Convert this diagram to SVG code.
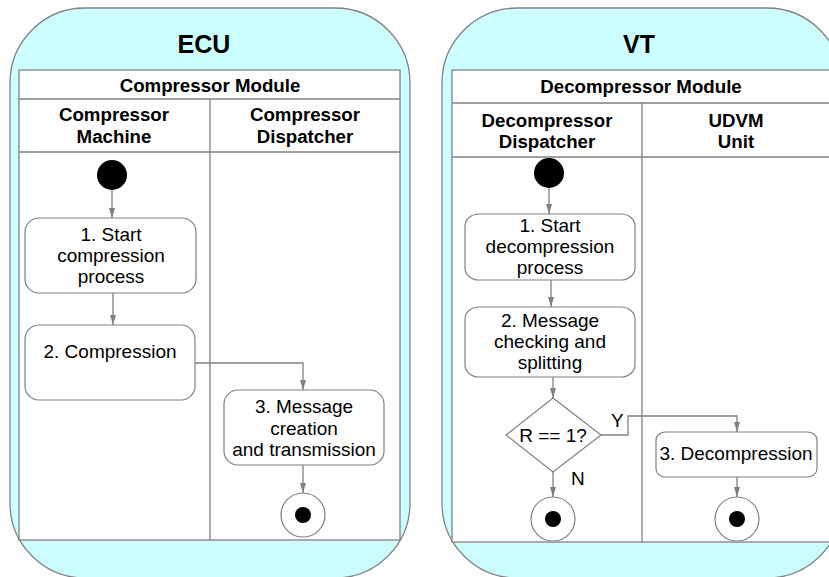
<svg xmlns="http://www.w3.org/2000/svg" width="829" height="577" viewBox="0 0 829 577">
<style>
.cont{fill:#ccffff;stroke:#808080;stroke-width:1.3}
.tbl{fill:#ffffff;stroke:#808080;stroke-width:1.3}
.ln{fill:none;stroke:#808080;stroke-width:1.3}
.box{fill:#ffffff;stroke:#808080;stroke-width:1.2}
.title{font-family:"Liberation Sans",Arial,sans-serif;font-weight:bold;font-size:25px;fill:#000;text-anchor:middle}
.hdr{font-family:"Liberation Sans",Arial,sans-serif;font-weight:bold;font-size:18.7px;fill:#000;text-anchor:middle}
.txt{font-family:"Liberation Sans",Arial,sans-serif;font-size:19px;fill:#000;text-anchor:middle}
.lbl{font-family:"Liberation Sans",Arial,sans-serif;font-size:19px;fill:#000}
.conn{fill:none;stroke:#808080;stroke-width:1.3;marker-end:url(#ah)}
</style>
<defs>
<marker id="ah" markerUnits="userSpaceOnUse" markerWidth="10" markerHeight="16" refX="15" refY="4.5" orient="auto" viewBox="0 0 15 9">
<path d="M0,0 L15,4.5 L0,9 z" fill="#808080"/>
</marker>
</defs>

<g id="ecu">
<rect class="cont" x="10" y="8" width="400" height="570" rx="75" ry="75"/>
<text class="title" x="204" y="53">ECU</text>
<rect class="tbl" x="19" y="70" width="381" height="470"/>
<line class="ln" x1="19" y1="99" x2="400" y2="99"/>
<line class="ln" x1="19" y1="152" x2="400" y2="152"/>
<line class="ln" x1="210" y1="99" x2="210" y2="540"/>
<text class="hdr" x="210" y="92">Compressor Module</text>
<text class="hdr" x="114" y="121">Compressor</text>
<text class="hdr" x="114" y="143">Machine</text>
<text class="hdr" x="305" y="121">Compressor</text>
<text class="hdr" x="305" y="143">Dispatcher</text>
</g>

<g id="vt">
<rect class="cont" x="442" y="8" width="400" height="570" rx="75" ry="75"/>
<text class="title" x="639" y="53">VT</text>
<rect class="tbl" x="452" y="70" width="380" height="472"/>
<line class="ln" x1="452" y1="103" x2="832" y2="103"/>
<line class="ln" x1="452" y1="157" x2="832" y2="157"/>
<line class="ln" x1="642" y1="103" x2="642" y2="542"/>
<text class="hdr" x="641" y="93">Decompressor Module</text>
<text class="hdr" x="547" y="127">Decompressor</text>
<text class="hdr" x="547" y="148">Dispatcher</text>
<text class="hdr" x="736" y="127">UDVM</text>
<text class="hdr" x="736" y="148">Unit</text>
</g>

<g id="connectors">
<line class="conn" x1="112" y1="190" x2="112" y2="218"/>
<line class="conn" x1="113" y1="293" x2="113" y2="325"/>
<polyline class="conn" points="195,363 303,363 303,390"/>
<line class="conn" x1="303" y1="465" x2="303" y2="493"/>
<line class="conn" x1="549" y1="188" x2="549" y2="214"/>
<line class="conn" x1="551" y1="280" x2="551" y2="307"/>
<line class="conn" x1="553" y1="377" x2="553" y2="398"/>
<polyline class="conn" points="601,435 628,435 628,416 737,416 737,432"/>
<line class="conn" x1="553" y1="472" x2="553" y2="497"/>
<line class="conn" x1="737" y1="477" x2="737" y2="497"/>
</g>

<g id="ecu-start"><circle cx="112" cy="175" r="15" fill="#000"/></g>
<g id="ecu-n1">
<rect class="box" x="25" y="218" width="171" height="75" rx="14" ry="14"/>
<text class="txt" x="111" y="241">1. Start</text>
<text class="txt" x="111" y="262">compression</text>
<text class="txt" x="111" y="283">process</text>
</g>
<g id="ecu-n2">
<rect class="box" x="25" y="325" width="170" height="75" rx="14" ry="14"/>
<text class="txt" x="110" y="358">2. Compression</text>
</g>
<g id="ecu-n3">
<rect class="box" x="224" y="390" width="160" height="75" rx="14" ry="14"/>
<text class="txt" x="304" y="413">3. Message</text>
<text class="txt" x="304" y="435">creation</text>
<text class="txt" x="304" y="456">and transmission</text>
</g>
<g id="ecu-end">
<circle cx="303" cy="515" r="22" fill="#fff" stroke="#808080" stroke-width="1.2"/>
<circle cx="303" cy="515" r="8" fill="#000"/>
</g>

<g id="vt-start"><circle cx="549" cy="173" r="15" fill="#000"/></g>
<g id="vt-n1">
<rect class="box" x="465" y="214" width="170" height="66" rx="14" ry="12"/>
<text class="txt" x="550" y="232">1. Start</text>
<text class="txt" x="550" y="253">decompression</text>
<text class="txt" x="550" y="274">process</text>
</g>
<g id="vt-n2">
<rect class="box" x="465" y="307" width="170" height="70" rx="14" ry="12"/>
<text class="txt" x="550" y="327">2. Message</text>
<text class="txt" x="550" y="348">checking and</text>
<text class="txt" x="550" y="369">splitting</text>
</g>
<g id="vt-decision">
<polygon points="553,398 601,435 553,472 506,435" fill="#fff" stroke="#808080" stroke-width="1.2"/>
<text class="txt" x="553" y="442">R == 1?</text>
</g>
<g id="vt-n3">
<rect class="box" x="656" y="432" width="161" height="45" rx="10" ry="8"/>
<text class="txt" x="736" y="460">3. Decompression</text>
</g>
<g id="vt-end1">
<circle cx="553" cy="519" r="22" fill="#fff" stroke="#808080" stroke-width="1.2"/>
<circle cx="553" cy="519" r="8" fill="#000"/>
</g>
<g id="vt-end2">
<circle cx="737" cy="519" r="22" fill="#fff" stroke="#808080" stroke-width="1.2"/>
<circle cx="737" cy="519" r="8" fill="#000"/>
</g>
<text class="lbl" x="611" y="427">Y</text>
<text class="lbl" x="571" y="485">N</text>
</svg>
